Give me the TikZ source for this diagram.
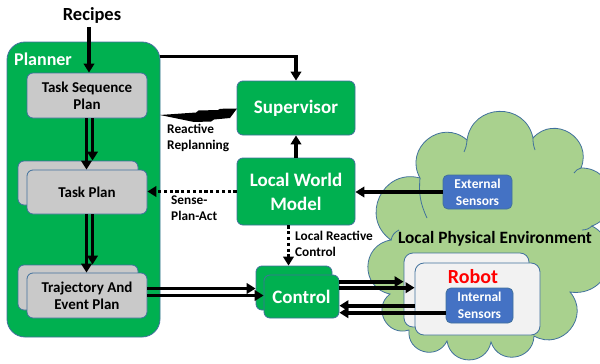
\documentclass[tikz,border=0pt]{standalone}
\usepackage{fontspec}
\setmainfont{Carlito}
\usetikzlibrary{arrows.meta}
\definecolor{boxgreen}{HTML}{00B050}
\definecolor{edgeblue}{HTML}{41719C}
\definecolor{plangray}{HTML}{C9C9C9}
\definecolor{sensblue}{HTML}{4472C4}
\definecolor{cloudgreen}{HTML}{A9D18E}
\definecolor{robotgray}{HTML}{F2F2F2}

\begin{document}
\begin{tikzpicture}[x=1pt, y=-1pt,
  box/.style = {draw=edgeblue, line width=0.8pt, rounded corners=6pt, inner sep=0pt, align=center},
  green box/.style = {box, fill=boxgreen, text=white, font=\bfseries\fontsize{19}{24}\selectfont},
  plan box/.style = {box, fill=plangray, minimum width=120pt, minimum height=45pt, font=\bfseries\fontsize{15}{17}\selectfont},
  sensor box/.style = {box, fill=sensblue, text=white, rounded corners=5pt, font=\bfseries\fontsize{13.5}{17}\selectfont},
  robot box/.style = {box, fill=robotgray, rounded corners=9pt, minimum width=125pt},
  label/.style = {align=left, anchor=north west, inner sep=0pt, font=\bfseries\fontsize{13.3}{16}\selectfont},
  puff/.style = {bend left=80, looseness=1.45},
  arr/.style = {line width=3.6pt, -{Triangle[length=9pt,width=10.5pt]}},
  dotarr/.style = {arr, dash pattern=on 3.2pt off 2.6pt}]
  \useasboundingbox (0,0) rectangle (600,364);

  \draw[draw=edgeblue, line width=0.8pt, fill=cloudgreen]
    (420,178) to[puff] (467,140) to[puff] (533,138) to[puff] (581,168) to[puff] (592,226)
    to[puff] (570,292) to[puff] (534,336) to[puff] (491,342) to[puff] (447,341)
    to[puff] (409,330) to[puff] (390,294) to[puff] (391,240) to[puff] cycle;
  \draw[edgeblue, line width=0.8pt] (420,178) to[bend right=15] (427,218)
    (467,140) to[bend left=10] (464,152) (533,138) to[bend right=10] (535,150)
    (581,168) to[bend right=20] (574,173) (592,226) to[bend left=20] (582,230)
    (391,240) to[bend left=25] (399,230);
  \node[font=\bfseries\fontsize{17.3}{20}\selectfont, inner sep=0pt] (envlbl) at (495,239) {Local Physical Environment};

  \node[box, fill=boxgreen, rounded corners=18pt, minimum width=153pt, minimum height=295pt] (planner) at (83.5,189.5) {};
  \node[anchor=west, inner sep=0pt, text=white, font=\bfseries\fontsize{18}{20}\selectfont] (plannerlbl) at (14,59) {Planner};
  \node[inner sep=0pt, font=\bfseries\fontsize{18.5}{20}\selectfont] (recipes) at (92,15) {Recipes};

  \node[plan box] (tsp) at (87,95.5) {Task Sequence\\Plan};
  \node[plan box, minimum height=44pt] (tpb) at (78,183) {};
  \node[plan box, minimum height=44pt] (tp) at (87,192) {Task Plan};
  \node[plan box] (trajb) at (78,287.5) {};
  \node[plan box] (traj) at (87,295.5) {Trajectory And\\Event Plan};

  \node[green box, minimum width=118pt, minimum height=54pt] (sup) at (296,108) {Supervisor};
  \node[green box, minimum width=118pt, minimum height=67pt] (lwm) at (296,191.5) {Local World\\Model};
  \node[green box, minimum width=76pt, minimum height=44pt] (ctlb) at (294,288) {};
  \node[green box, minimum width=75pt, minimum height=43pt] (ctl) at (301.5,296.5) {Control};

  \node[sensor box, minimum width=69pt, minimum height=34pt] (ext) at (477.5,192) {External\\Sensors};
  \node[robot box, minimum height=74pt] (robotb) at (466.5,290) {};
  \node[robot box, minimum height=72pt] (robot) at (477.5,299) {};
  \node[text=red, inner sep=0pt, font=\bfseries\fontsize{20}{22}\selectfont] (robotlbl) at (473,277) {Robot};
  \node[sensor box, minimum width=67pt, minimum height=35pt] (int) at (479.5,305.5) {Internal\\Sensors};

  \node[label] (replan) at (167,124) {Reactive\\Replanning};
  \node[label] (spa) at (171,196) {Sense-\\Plan-Act};
  \node[label] (lrc) at (295,231) {Local Reactive\\Control};

  \draw[arr] (recipes.south -| 89,0) ++(0,4) -- (89,0 |- tsp.north);
  \draw[arr] ([yshift=-15pt]planner.north east) -| (sup.north);
  \draw[arr] (lwm) -- (sup);
  \fill (160,115) -- (196,112.5) -- (198.5,110.5) -- (218,110) -- (220,108.8) -- (237,108.5)
    -- (230,118) -- (214,119.5) -- (211,121.5) -- (194,122) -- cycle;

  \draw[arr] ([xshift=-0.5pt]tsp.south) -- ([xshift=-0.5pt]tsp.south |- tp.north);
  \draw[arr] ([xshift=5.5pt]tsp.south) -- ([xshift=5.5pt]tsp.south |- tpb.north);
  \draw[arr] ([xshift=-0.5pt]tp.south) -- ([xshift=-0.5pt]tp.south |- traj.north);
  \draw[arr] ([xshift=5.5pt]tp.south) -- ([xshift=5.5pt]tp.south |- trajb.north);

  \draw[arr] ([yshift=7pt]traj.east) -- ([yshift=7pt]traj.east -| ctlb.west);
  \draw[arr] (traj.east) -- (traj.east -| ctl.west);
  \draw[dotarr] (lwm.west) -- (lwm.west -| tp.east);
  \draw[dotarr] ([xshift=-7.5pt]lwm.south) -- ([xshift=-7.5pt]lwm.south |- ctlb.north);
  \draw[arr] (ext.west) -- (ext.west -| lwm.east);

  \draw[arr] ([yshift=14.8pt]ctl.east) -- ([yshift=14.8pt]ctl.east -| robotb.west);
  \draw[arr] ([yshift=8.8pt]ctl.east) -- ([yshift=8.8pt]ctl.east -| robot.west);
  \draw[arr] ([yshift=-6.7pt]robot.west) -- ([yshift=-6.7pt]robot.west -| ctl.east);
  \draw[arr] ([yshift=-7.2pt]int.west) -- ([yshift=-7.2pt]int.west -| ctl.east);
\end{tikzpicture}
\end{document}
